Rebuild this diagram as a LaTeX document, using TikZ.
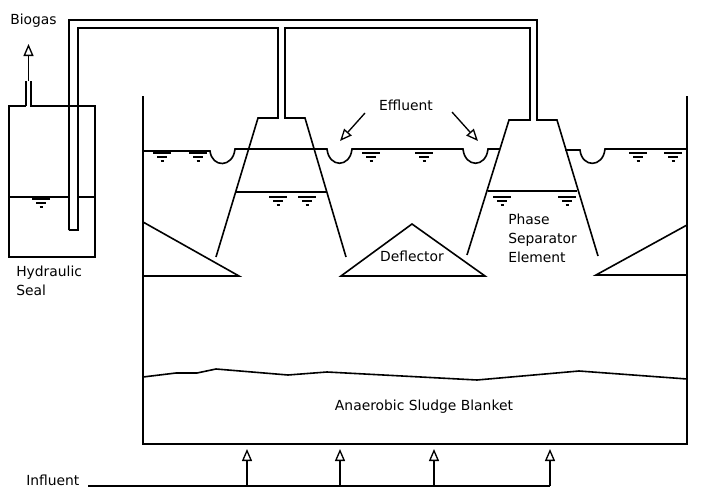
\documentclass[tikz,border=0pt]{standalone}
\usepackage{fontspec}
\setmainfont{DejaVu Sans}
\usetikzlibrary{arrows.meta}
\tikzset{
  wall/.style={line width=1.2pt,line join=miter},
  flow/.style={line width=1pt,-{Triangle[open,length=9pt,width=7.5pt,line width=1pt]}},
  lbl/.style={font=\fontsize{10.4}{14.25}\selectfont,inner sep=0pt,align=left},
}
\begin{document}
\begin{tikzpicture}[x=0.75pt,y=-0.75pt]
\useasboundingbox (0,0) rectangle (701,496);
\draw[wall] (26,106) -- (9,106) -- (9,257) -- (95,257) -- (95,106) -- (31,106) -- (31,81) (26,106) -- (26,81);
\draw[wall] (9,197) -- (69,197) (78,197) -- (95,197);
\fill[white] (69.8,107) rectangle (77.2,228);
\draw[wall] (69,230) -- (69,20) -- (537,20) -- (537,120) -- (557,120) -- (598,256);
\draw[wall] (69,230) -- (78,230) -- (78,28) -- (278,28) -- (278,118) -- (258,118) -- (216,257);
\draw[wall] (346,257) -- (305,118) -- (285,118) -- (285,28) -- (530,28) -- (530,120) -- (509,120) -- (467,255);
\draw[wall] (143,96) -- (143,444) -- (687,444) -- (687,96);
\draw[wall] (143,151) -- (210,151) .. controls (212,168) and (233,168) .. (235,149) -- (327,149) .. controls (329,168) and (350,168) .. (352,149) -- (463,149) .. controls (465,168) and (486,168) .. (488,149) -- (500,149);
\draw[wall] (565,150) -- (580,150) .. controls (582,168) and (603,168) .. (605,149) -- (687,149);
\draw[wall] (236,192) -- (326,192) (488,191) -- (577,191);
\draw[wall] (143,222) -- (239,276) -- (143,276);
\draw[wall] (687,225) -- (596,275) -- (687,275);
\draw[wall] (341,276) -- (412,224) -- (485,276) -- cycle;
\draw[wall] (143,377) -- (176,373) -- (197,373) -- (216,369) -- (288,375) -- (327,372) -- (477,380) -- (579,371) -- (687,379);
\foreach \x/\y in {162/153,198/153,41/199,278/197,307/197,371/153,424/153,502/197,567/197,638/153,673/153}{
  \draw[line width=0.8pt] (\x-9,\y) -- (\x+9,\y) (\x-5,\y+4) -- (\x+5,\y+4) (\x-1.5,\y+8) -- (\x+1.5,\y+8);
}
\node[lbl,anchor=west] (biogas) at (10,20.5) {Biogas};
\node[lbl,anchor=west] (seal) at (16,281) {Hydraulic\\Seal};
\node[lbl] (effluent) at (406,105.5) {Effluent};
\node[lbl] (deflector) at (412,256) {Deflector};
\node[lbl,anchor=west] (phase) at (508,238.5) {Phase\\Separator\\Element};
\node[lbl] (blanket) at (424,406.5) {Anaerobic Sludge Blanket};
\node[lbl,anchor=west] (influent) at (26,480.5) {Influent};
\coordinate (ventout) at (28.5,81);
\coordinate (venttip) at (28.5,44);
\coordinate (effl) at (365,113);
\coordinate (efflend) at (340,141);
\coordinate (effr) at (452,112);
\coordinate (effrend) at (478,141);
\coordinate (feed) at (88,486);
\draw[flow] (ventout) -- (venttip);
\draw[flow] (effl) -- (efflend);
\draw[flow] (effr) -- (effrend);
\draw[wall] (feed) -- (550,486);
\foreach \x in {247,340,434,550}{
  \coordinate (in\x) at (\x,486);
  \coordinate (up\x) at (\x,449);
  \draw[flow] (in\x) -- (up\x);
}
\end{tikzpicture}
\end{document}
